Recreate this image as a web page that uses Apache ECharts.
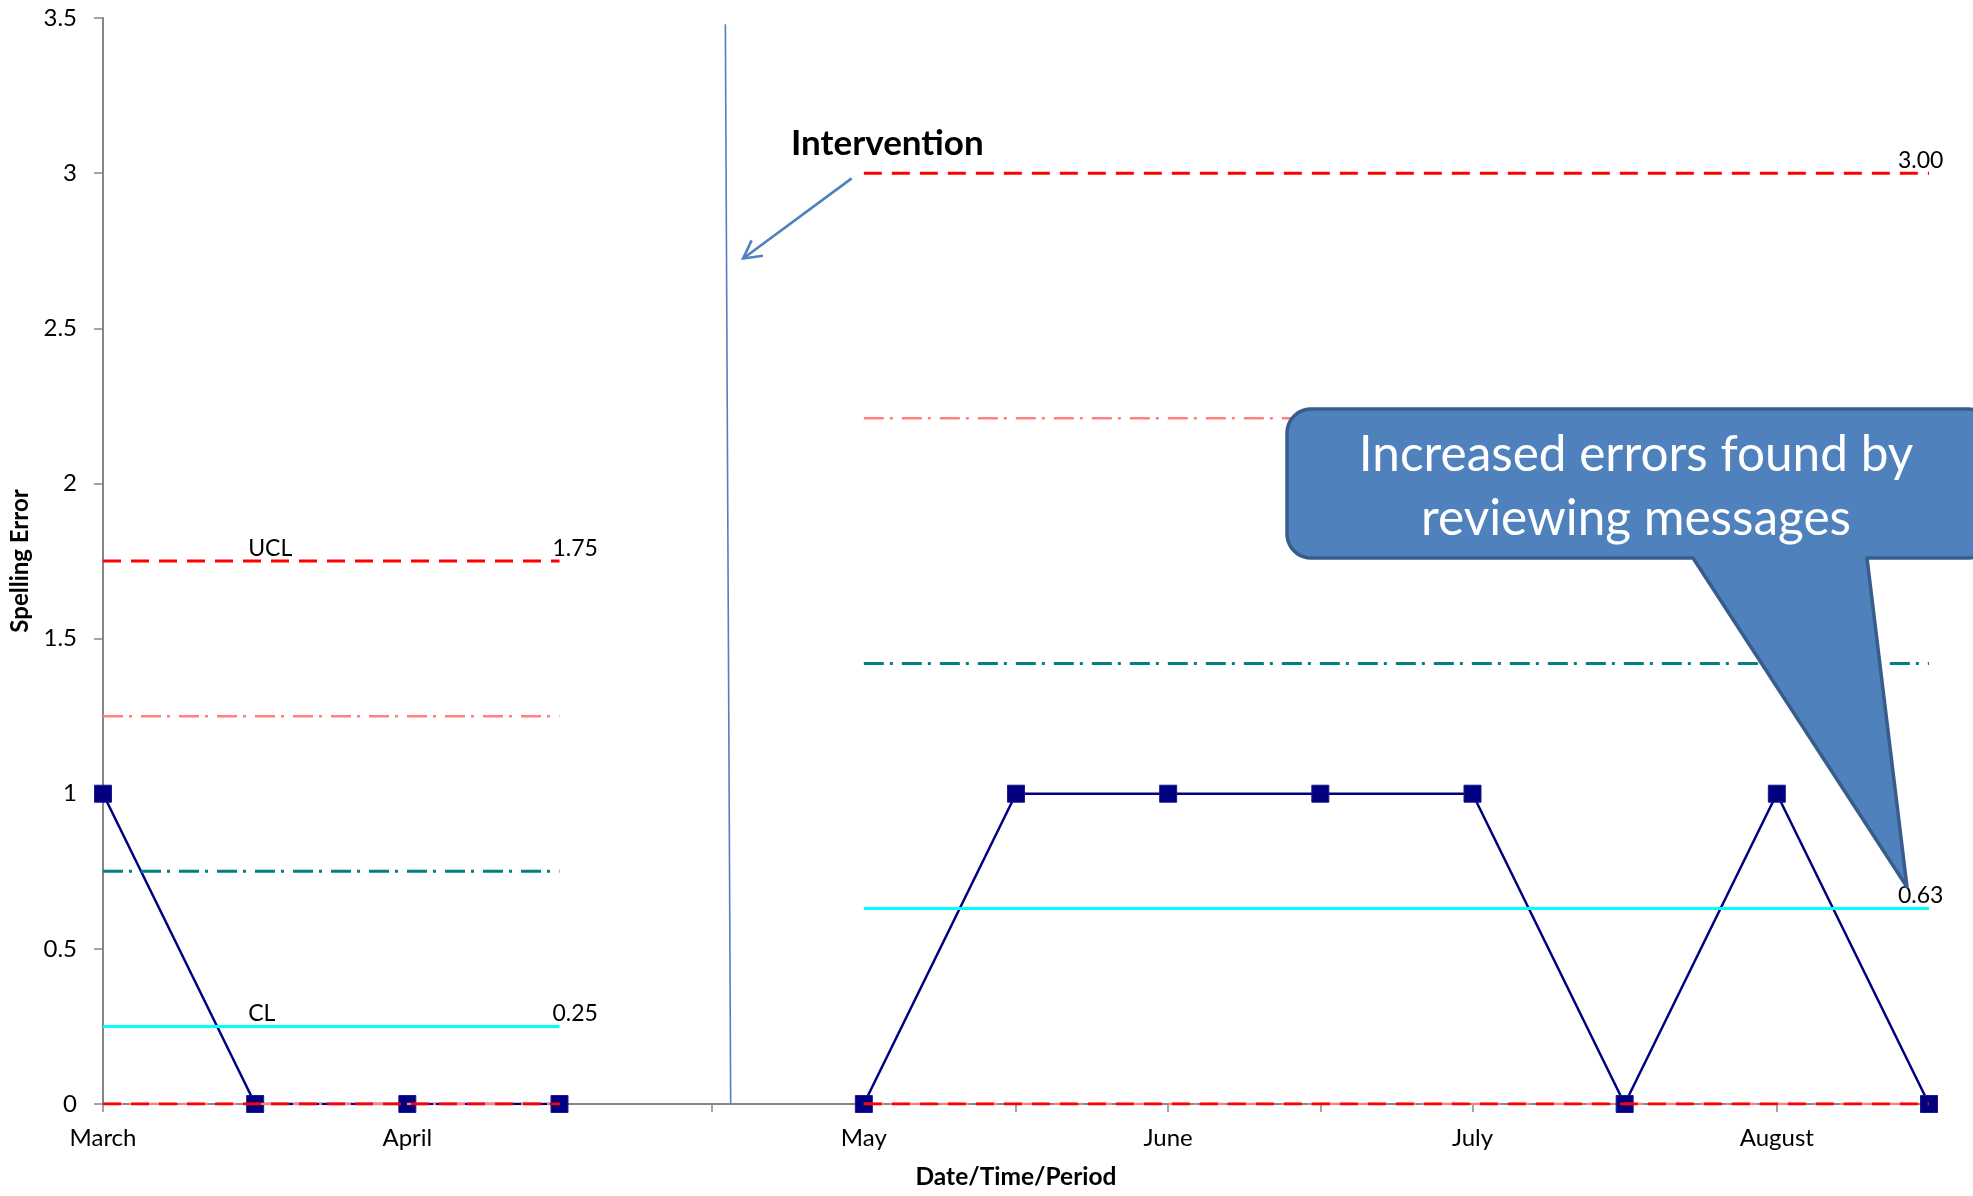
<!DOCTYPE html>
<html>
<head>
<meta charset="utf-8">
<title>Spelling Error control chart</title>
<script src="https://cdn.jsdelivr.net/npm/echarts@6/dist/echarts.min.js"></script>
<style>
  html, body { margin: 0; padding: 0; background: #ffffff; }
  #chart { width: 1973px; height: 1196px; }
</style>
</head>
<body>
<div id="chart"></div>
<script>
// Period slots along the x axis (an empty slot separates the two phases)
const categories = ['March', '', 'April', '', '', 'May', '', 'June', '', 'July', '', 'August', ''];

// Spelling errors per period
const errors = [1, 0, 0, 0, null, 0, 1, 1, 1, 1, 0, 1, 0];

// Control limits: phase 1 (before intervention) and phase 2 (after)
const ucl    = [1.75, 1.75, 1.75, 1.75, null, 3.00, 3.00, 3.00, 3.00, 3.00, 3.00, 3.00, 3.00];
const upper2 = [1.25, 1.25, 1.25, 1.25, null, 2.21, 2.21, 2.21, 2.21, 2.21, 2.21, 2.21, 2.21];
const upper1 = [0.75, 0.75, 0.75, 0.75, null, 1.42, 1.42, 1.42, 1.42, 1.42, 1.42, 1.42, 1.42];
const centre = [0.25, 0.25, 0.25, 0.25, null, 0.63, 0.63, 0.63, 0.63, 0.63, 0.63, 0.63, 0.63];
const lower2 = [0, 0, 0, 0, null, 0, 0, 0, 0, 0, 0, 0, 0];
const lcl    = [0, 0, 0, 0, null, 0, 0, 0, 0, 0, 0, 0, 0];

// Y axis ticks
const yTicks = { min: 0, max: 3.5, step: 0.5 };

// Annotation anchors in data units (x on a 0..12 slot scale, y in errors)
const interventionLine = [[4.09, 3.48], [4.125, 0]];
const interventionArrow = [[4.92, 2.983], [4.207, 2.725]];

const FONT = 'Lato, "Open Sans", sans-serif';

const chart = echarts.init(document.getElementById('chart'), null, { renderer: 'canvas' });

// Build a horizontal limit line with optional text labels at some slots
function limitSeries(name, values, color, width, dash, labels) {
  const data = values.map((v, i) => {
    const lab = labels && labels[i];
    if (v === null) return null;
    if (!lab) return { value: v, symbol: 'none' };
    return {
      value: v,
      symbol: 'circle',
      symbolSize: 0.5,
      label: {
        show: true,
        formatter: lab.text,
        position: 'top',
        align: 'left',
        distance: 1,
        offset: [lab.dx, 0],
        color: '#000',
        fontSize: 23,
        fontFamily: FONT
      }
    };
  });
  return {
    name: name,
    type: 'line',
    data: data,
    connectNulls: false,
    showSymbol: true,
    itemStyle: { color: color },
    lineStyle: { color: color, width: width, type: dash },
    emphasis: { disabled: true },
    silent: true,
    z: 3
  };
}

const DASH = [18, 10];
const DASH_DOT = [20, 6, 3, 9];

function endLabels(values, nameText) {
  return {
    1: { text: nameText, dx: -7 },
    3: { text: values[3].toFixed(2), dx: -7 },
    12: { text: values[12].toFixed(2), dx: -31 }
  };
}

const option = {
  animation: false,
  backgroundColor: '#ffffff',
  grid: { left: 103, right: 44, top: 18, bottom: 92, containLabel: false },
  xAxis: [
    {
      type: 'category',
      data: categories,
      boundaryGap: false,
      name: 'Date/Time/Period',
      nameLocation: 'middle',
      nameGap: 61,
      nameTextStyle: { fontFamily: FONT, fontWeight: 'bold', fontSize: 24.5, color: '#000' },
      axisLine: { show: true, lineStyle: { color: '#868686', width: 2 } },
      axisTick: { show: true, interval: 0, length: 8, lineStyle: { color: '#868686', width: 1.5 } },
      axisLabel: { interval: 0, margin: 22, fontFamily: FONT, fontSize: 24, color: '#000' },
      splitLine: { show: false }
    },
    {
      type: 'value',
      min: 0,
      max: categories.length - 1,
      show: false
    }
  ],
  yAxis: {
    type: 'value',
    min: yTicks.min,
    max: yTicks.max,
    interval: yTicks.step,
    name: 'Spelling Error',
    nameLocation: 'middle',
    nameGap: 68,
    nameTextStyle: { fontFamily: FONT, fontWeight: 'bold', fontSize: 24, color: '#000' },
    axisLine: { show: true, lineStyle: { color: '#868686', width: 2 } },
    axisTick: { show: true, length: 9, lineStyle: { color: '#868686', width: 1.5 } },
    axisLabel: { margin: 26, fontFamily: FONT, fontSize: 24, color: '#000' },
    splitLine: { show: false }
  },
  series: [
    {
      name: 'Spelling Error',
      type: 'line',
      data: errors,
      connectNulls: false,
      symbol: 'rect',
      symbolSize: 17,
      itemStyle: { color: '#000080', borderColor: '#1a1a8c', borderWidth: 1 },
      lineStyle: { color: '#000080', width: 2.5 },
      emphasis: { disabled: true },
      z: 2
    },
    limitSeries('+2 Sigma', upper2, '#FF8080', 2.5, DASH_DOT),
    limitSeries('+1 Sigma', upper1, '#008080', 3, DASH_DOT),
    limitSeries('CL', centre, '#00FFFF', 3, 'solid', endLabels(centre, 'CL')),
    limitSeries('-2 Sigma', lower2, '#FF8080', 2.5, DASH_DOT),
    limitSeries('UCL', ucl, '#FF0000', 3, DASH, endLabels(ucl, 'UCL')),
    limitSeries('LCL', lcl, '#FF0000', 3, DASH)
  ]
};

chart.setOption(option);

// Annotations placed through the chart's own scales
const toPx = p => chart.convertToPixel({ xAxisIndex: 1, yAxisIndex: 0 }, p);
const vTop = toPx(interventionLine[0]);
const vBot = toPx(interventionLine[1]);
const aFrom = toPx(interventionArrow[0]);
const aTo = toPx(interventionArrow[1]);

// Open arrow head at the tip of the intervention pointer
const ang = Math.atan2(aTo[1] - aFrom[1], aTo[0] - aFrom[0]);
const headLen = 20, headSpread = 0.5;
const h1 = [aTo[0] - headLen * Math.cos(ang - headSpread), aTo[1] - headLen * Math.sin(ang - headSpread)];
const h2 = [aTo[0] - headLen * Math.cos(ang + headSpread), aTo[1] - headLen * Math.sin(ang + headSpread)];

// Rounded callout body with a pointer on its lower edge
function calloutPoints(L, T, R, B, r, baseL, baseR, tip) {
  const pts = [];
  const arc = (cx, cy, a0, a1) => {
    for (let k = 0; k <= 10; k++) {
      const a = (a0 + (a1 - a0) * k / 10) * Math.PI / 180;
      pts.push([cx + r * Math.cos(a), cy + r * Math.sin(a)]);
    }
  };
  arc(L + r, T + r, 180, 270);
  arc(R - r, T + r, 270, 360);
  arc(R - r, B - r, 0, 90);
  pts.push([baseR, B], tip, [baseL, B]);
  arc(L + r, B - r, 90, 180);
  return pts;
}

chart.setOption({
  graphic: [
    {
      type: 'line',
      shape: { x1: vTop[0], y1: vTop[1], x2: vBot[0], y2: vBot[1] },
      style: { stroke: '#4F81BD', lineWidth: 1.6 },
      z: 10
    },
    {
      type: 'polyline',
      shape: { points: [aFrom, aTo] },
      style: { stroke: '#4F81BD', lineWidth: 2.6, fill: null },
      z: 10
    },
    {
      type: 'polyline',
      shape: { points: [h1, aTo, h2] },
      style: { stroke: '#4F81BD', lineWidth: 2.6, fill: null, lineJoin: 'miter' },
      z: 10
    },
    {
      type: 'text',
      x: 791,
      y: 144,
      style: {
        text: 'Intervention',
        fill: '#000',
        fontFamily: FONT,
        fontWeight: 'bold',
        fontSize: 35,
        textAlign: 'left',
        textVerticalAlign: 'middle'
      },
      z: 10
    },
    {
      type: 'polygon',
      shape: { points: calloutPoints(1287, 409, 1992, 558, 24, 1693, 1867, [1907, 887]) },
      style: { fill: '#4F81BD', stroke: '#385D8A', lineWidth: 3.5, lineJoin: 'round' },
      z: 20
    },
    {
      type: 'text',
      x: 1636,
      y: 487,
      style: {
        text: 'Increased errors found by\nreviewing messages',
        fill: '#ffffff',
        fontFamily: FONT,
        fontSize: 49.5,
        lineHeight: 64,
        textAlign: 'center',
        textVerticalAlign: 'middle'
      },
      z: 21
    }
  ]
});
</script>
</body>
</html>
